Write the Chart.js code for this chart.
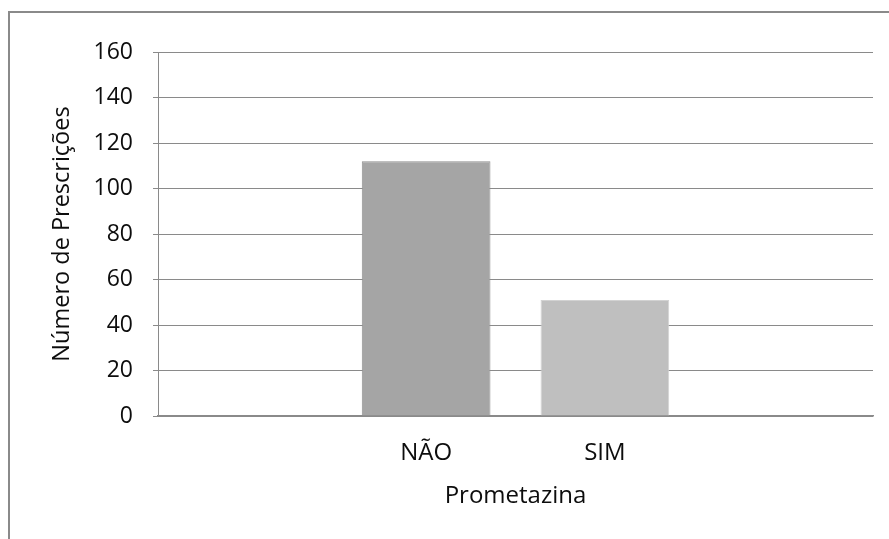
<!DOCTYPE html>
<html>
<head>
<meta charset="utf-8">
<script src="https://cdn.jsdelivr.net/npm/chart.js@4/dist/chart.umd.min.js"></script>
<style>
  html, body { margin: 0; padding: 0; background: #fff; overflow: hidden; }
  #wrap { position: relative; width: 889px; height: 539px; }
  #frame { position: absolute; left: 8px; top: 11px; width: 1000px; height: 1000px;
           border: 2px solid #8a8a8a; box-sizing: border-box; pointer-events: none; }
  canvas { position: absolute; left: 0; top: 0; }
</style>
</head>
<body>
<div id="wrap">
  <canvas id="c" width="889" height="539"></canvas>
  <div id="frame"></div>
</div>
<script>
// Prescriptions with and without promethazine (blank slots pad the axis on both sides)
const categories = ['', 'NÃO', 'SIM', ''];
const prescriptions = [null, 112, 51, null];
const barFills = ['#a5a5a5', '#a5a5a5', '#bfbfbf', '#bfbfbf'];
const barEdges = ['#8f8f8f', '#8f8f8f', '#d2d2d2', '#d2d2d2'];
const yTitle = 'Número de Prescrições';
const xTitle = 'Prometazina';

const FONT = '"Open Sans", sans-serif';
const TEXT = '#0d0d0d';
const LINE = '#8a8a8a';

new Chart(document.getElementById('c'), {
  type: 'bar',
  data: {
    labels: categories,
    datasets: [{
      data: prescriptions,
      backgroundColor: barFills,
      borderColor: barEdges,
      borderWidth: 1,
      categoryPercentage: 1,
      barPercentage: 0.72
    }]
  },
  options: {
    responsive: false,
    animation: false,
    events: [],
    layout: { padding: { top: 52, right: 16, bottom: 0, left: 0 } },
    plugins: { legend: { display: false }, tooltip: { enabled: false } },
    scales: {
      x: {
        grid: { display: false, drawTicks: false },
        border: { display: true, color: LINE, width: 1.5 },
        ticks: { color: TEXT, font: { family: FONT, size: 24 }, padding: 23 },
        title: { display: true, text: xTitle, color: TEXT,
                 font: { family: FONT, size: 24 }, padding: { top: 0, bottom: 28 } },
        afterFit: s => { s.height = 123; }
      },
      y: {
        min: 0, max: 160,
        ticks: { stepSize: 20, color: TEXT, font: { family: FONT, size: 23 }, padding: 20 },
        grid: { color: LINE, lineWidth: 1, tickLength: 5, drawTicks: true },
        border: { display: true, color: LINE, width: 1 },
        title: { display: true, text: yTitle, color: TEXT,
                 font: { family: FONT, size: 23.5 }, padding: { top: 48, bottom: 0 } },
        afterFit: s => { s.width = 158; }
      }
    }
  }
});
</script>
</body>
</html>
